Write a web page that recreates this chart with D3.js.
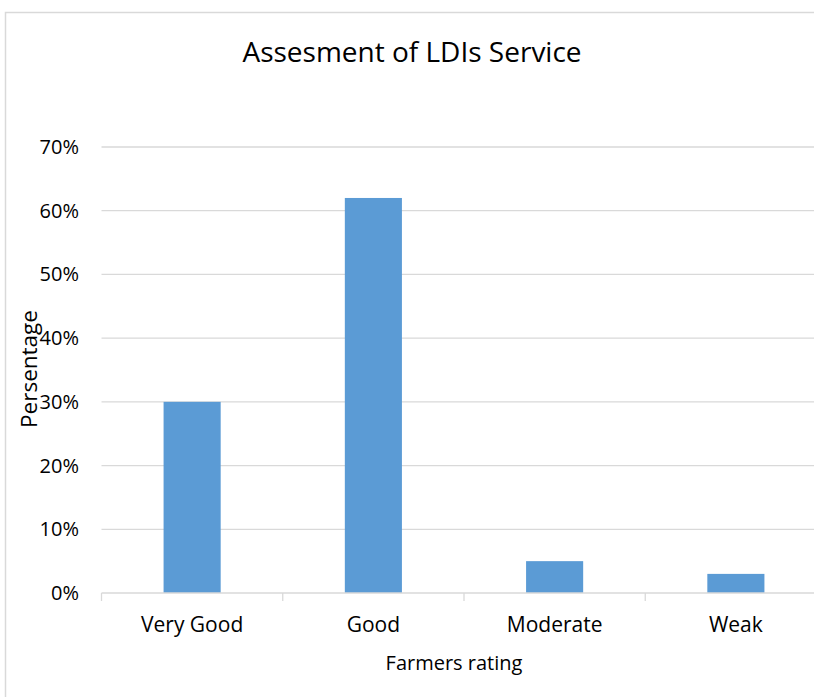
<!DOCTYPE html>
<html>
<head>
<meta charset="utf-8">
<script src="https://cdn.jsdelivr.net/npm/d3@7"></script>
<style>
	html, body { margin: 0; background: #fff; overflow: hidden; }
	svg { display: block; }
	text { font-family: "Open Sans", "Noto Sans", sans-serif; fill: #000; }
</style>
</head>
<body>
<svg id="chart" width="814" height="697"></svg>
<script>
const categories = ["Very Good", "Good", "Moderate", "Weak"];
const values = [0.30, 0.62, 0.05, 0.03];
const yTicks = [0, 0.1, 0.2, 0.3, 0.4, 0.5, 0.6, 0.7];

const svg = d3.select("#chart");
const plotLeft = 101.5, plotRight = 826.5, plotTop = 147, plotBottom = 593;

// chart border (runs off the right/bottom edge)
svg.append("path")
	.attr("d", "M5.5,700V12.5H820")
	.attr("fill", "none")
	.attr("stroke", "#d9d9d9")
	.attr("stroke-width", 1.5);

const x = d3.scaleBand()
	.domain(categories)
	.range([plotLeft, plotRight])
	.paddingInner(0.685)
	.paddingOuter(0.3425);

const y = d3.scaleLinear()
	.domain([0, 0.7])
	.range([plotBottom, plotTop]);

// gridlines
svg.append("g")
	.selectAll("line")
	.data(yTicks.slice(1))
	.enter().append("line")
	.attr("x1", plotLeft)
	.attr("x2", plotRight)
	.attr("y1", (d) => y(d))
	.attr("y2", (d) => y(d))
	.attr("stroke", "#d9d9d9")
	.attr("stroke-width", 1.3);

// y tick labels
svg.append("g")
	.selectAll("text")
	.data(yTicks)
	.enter().append("text")
	.attr("x", 79)
	.attr("y", (d) => y(d))
	.attr("dy", "0.35em")
	.attr("text-anchor", "end")
	.style("font-size", "20px")
	.text(d3.format(".0%"));

// bars
svg.append("g")
	.selectAll("rect")
	.data(values)
	.enter().append("rect")
	.attr("x", (d, i) => x(categories[i]))
	.attr("width", x.bandwidth())
	.attr("y", (d) => y(d))
	.attr("height", (d) => y(0) - y(d))
	.attr("fill", "#5b9bd5");

// x axis line and category ticks
svg.append("line")
	.attr("x1", plotLeft)
	.attr("x2", plotRight)
	.attr("y1", y(0))
	.attr("y2", y(0))
	.attr("stroke", "#d9d9d9")
	.attr("stroke-width", 1.3);

const step = x.step();
svg.append("g")
	.selectAll("line")
	.data(d3.range(categories.length + 1))
	.enter().append("line")
	.attr("x1", (i) => plotLeft + i * step)
	.attr("x2", (i) => plotLeft + i * step)
	.attr("y1", y(0))
	.attr("y2", y(0) + 8)
	.attr("stroke", "#d9d9d9")
	.attr("stroke-width", 1.3);

// category labels
svg.append("g")
	.selectAll("text")
	.data(categories)
	.enter().append("text")
	.attr("x", (d) => x(d) + x.bandwidth() / 2)
	.attr("y", 632)
	.attr("text-anchor", "middle")
	.style("font-size", "21px")
	.text((d) => d);

// title
svg.append("text")
	.attr("x", 412)
	.attr("y", 62)
	.attr("text-anchor", "middle")
	.style("font-size", "28px")
	.text("Assesment of LDIs Service");

// axis titles
svg.append("text")
	.attr("x", 454)
	.attr("y", 670)
	.attr("text-anchor", "middle")
	.style("font-size", "20px")
	.text("Farmers rating");

svg.append("text")
	.attr("transform", "translate(37,369) rotate(-90)")
	.attr("text-anchor", "middle")
	.style("font-size", "22.5px")
	.text("Persentage");
</script>
</body>
</html>
